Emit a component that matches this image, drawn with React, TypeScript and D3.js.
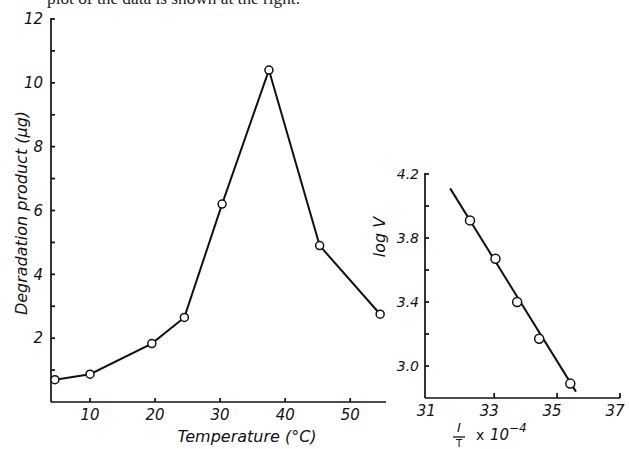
import React from "react";
import * as d3 from "d3";

// left panel: degradation product vs temperature
const temps = [4.6, 10, 19.5, 24.5, 30.3, 37.5, 45.3, 54.6];
const degradation = [0.7, 0.87, 1.83, 2.65, 6.2, 10.4, 4.9, 2.75];
const leftYTicks = [2, 4, 6, 8, 10, 12];
const leftYMinor = [1, 3, 5, 7, 9, 11];
const leftXTicks = [10, 20, 30, 40, 50];

// right panel: Arrhenius plot
const invT = [32.23, 33.04, 33.73, 34.43, 35.42];
const logV = [3.91, 3.67, 3.4, 3.17, 2.89];
const fitX = [31.6, 35.6];
const fitY = [4.11, 2.84];
const rightYTicks = [3.0, 3.4, 3.8, 4.2];
const rightYMinor = [3.2, 3.6, 4.0];
const rightXTicks = [31, 33, 35, 37];

const font = "'DejaVu Sans', 'Liberation Sans', sans-serif";

const App = () => {
  const xL = d3.scaleLinear().domain([4, 55.5]).range([51, 386]);
  const yL = d3.scaleLinear().domain([0, 12]).range([402, 19]);
  const xR = d3.scaleLinear().domain([30.8, 37]).range([425, 620]);
  const yR = d3.scaleLinear().domain([2.8, 4.2]).range([398, 174]);

  const leftLine = d3
    .line<number>()
    .x((_, i) => xL(temps[i]))
    .y((d) => yL(d))(degradation);
  const fitLine = d3
    .line<number>()
    .x((_, i) => xR(fitX[i]))
    .y((d) => yR(d))(fitY);

  const tickText = { fontFamily: font, fontSize: 15, fontStyle: "italic" as const, fill: "#111" };

  return (
    <svg
      width={629}
      height={449}
      style={{ position: "absolute", left: 0, top: 0, background: "#fff" }}
    >
      {/* cropped caption line from the page above */}
      <text x={47} y={4} fontFamily="'Liberation Serif', serif" fontSize={17} fill="#222"
        textLength={253} lengthAdjust="spacingAndGlyphs">
        plot of the data is shown at the right.
      </text>

      {/* ---- left panel ---- */}
      <g stroke="#111" strokeWidth={1.7} fill="none">
        <line x1={xL.range()[0]} x2={xL.range()[0]} y1={yL(12) - 1} y2={yL(0)} />
        <line x1={xL.range()[0]} x2={xL.range()[1]} y1={yL(0)} y2={yL(0)} />
        {leftYTicks.concat(leftYMinor).map((t) => (
          <line key={"ly" + t} x1={xL.range()[0]} x2={xL.range()[0] + 4} y1={yL(t)} y2={yL(t)} />
        ))}
        {leftXTicks.map((t) => (
          <line key={"lx" + t} x1={xL(t)} x2={xL(t)} y1={yL(0)} y2={yL(0) - 4} />
        ))}
      </g>
      {leftYTicks.map((t) => (
        <text key={"lyl" + t} x={43} y={yL(t)} dy="0.35em" textAnchor="end" {...tickText}>
          {t}
        </text>
      ))}
      {leftXTicks.map((t) => (
        <text key={"lxl" + t} x={xL(t)} y={420} textAnchor="middle" {...tickText}>
          {t}
        </text>
      ))}
      <text
        transform={`translate(27,${213}) rotate(-90)`}
        textAnchor="middle"
        fontFamily={font}
        fontSize={16}
        fontStyle="italic"
        fill="#111"
      >
        Degradation product (μg)
      </text>
      <text x={247} y={442} textAnchor="middle" fontFamily={font} fontSize={16} fontStyle="italic" fill="#111">
        Temperature (°C)
      </text>
      <path d={leftLine ?? ""} fill="none" stroke="#111" strokeWidth={2} />
      {degradation.map((d, i) => (
        <circle key={"lp" + i} cx={xL(temps[i])} cy={yL(d)} r={4} fill="#fff" stroke="#111" strokeWidth={1.5} />
      ))}

      {/* ---- right panel ---- */}
      <g stroke="#111" strokeWidth={1.7} fill="none">
        <line x1={xR.range()[0]} x2={xR.range()[0]} y1={yR(4.2) - 1} y2={yR(2.8)} />
        <line x1={xR.range()[0]} x2={xR.range()[1]} y1={yR(2.8)} y2={yR(2.8)} />
        {rightYTicks.concat(rightYMinor).map((t) => (
          <line key={"ry" + t} x1={xR.range()[0]} x2={xR.range()[0] + 4} y1={yR(t)} y2={yR(t)} />
        ))}
        {rightXTicks.slice(1).map((t) => (
          <line key={"rx" + t} x1={xR(t)} x2={xR(t)} y1={yR(2.8)} y2={yR(2.8) - 5} />
        ))}
      </g>
      {rightYTicks.map((t) => (
        <text key={"ryl" + t} x={419} y={yR(t)} dy="0.35em" textAnchor="end" {...tickText} fontSize={14}>
          {t.toFixed(1)}
        </text>
      ))}
      {rightXTicks.map((t) => (
        <text key={"rxl" + t} x={xR(t) - 5} y={416} textAnchor="middle" {...tickText} fontSize={15}>
          {t}
        </text>
      ))}
      <text
        transform={`translate(385,237) rotate(-90)`}
        textAnchor="middle"
        fontFamily={font}
        fontSize={16}
        fontStyle="italic"
        fill="#111"
      >
        log V
      </text>
      <g fontFamily={font} fill="#111">
        <text x={459} y={432} textAnchor="middle" fontSize={13} fontStyle="italic">I</text>
        <line x1={453} x2={465} y1={437} y2={437} stroke="#111" strokeWidth={1.3} />
        <text x={459} y={447} textAnchor="middle" fontSize={10}>T</text>
        <text x={476} y={440} fontSize={14}>x</text>
        <text x={490} y={440} fontSize={15} fontStyle="italic">10</text>
        <text x={509} y={432} fontSize={12} fontStyle="italic">−4</text>
      </g>
      <path d={fitLine ?? ""} fill="none" stroke="#111" strokeWidth={2} />
      {logV.map((d, i) => (
        <circle key={"rp" + i} cx={xR(invT[i])} cy={yR(d)} r={4.5} fill="#fff" stroke="#111" strokeWidth={1.5} />
      ))}
    </svg>
  );
};

export default App;
